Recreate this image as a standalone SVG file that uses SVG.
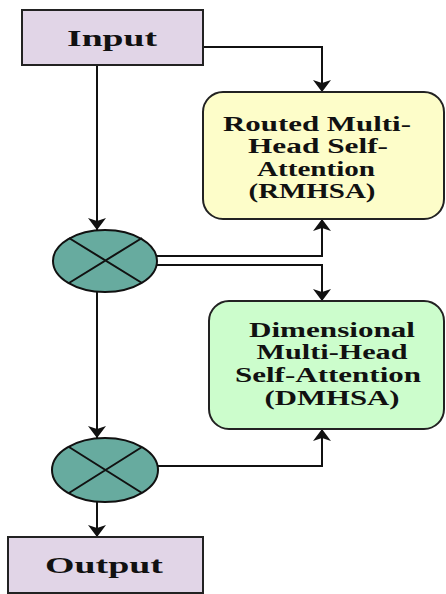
<svg xmlns="http://www.w3.org/2000/svg" width="446" height="594" viewBox="0 0 446 594">
  <defs>
    <marker id="arrow" markerUnits="userSpaceOnUse" markerWidth="20" markerHeight="20" viewBox="0 0 20 20" refX="12" refY="10" orient="auto">
      <path d="M0,1 L12,10 L0,19 L3,10 Z" fill="#111"/>
    </marker>
    <style>
      .box { stroke: #222; stroke-width: 2; }
      .io { fill: #e1d5e7; }
      .rm { fill: #fdfdc9; }
      .dm { fill: #ccfdcc; }
      .mul { fill: #67ab9f; stroke: #111; stroke-width: 2; }
      .cross { stroke: #111; stroke-width: 2; }
      .lbl { font-family: "Liberation Serif", "Times New Roman", serif; font-weight: bold; fill: #111; text-anchor: middle; }
      .big { font-size: 24px; }
      .mid { font-size: 20px; }
      .conn { fill: none; stroke: #111; stroke-width: 2; }
    </style>
  </defs>

  <!-- connectors -->
  <g id="connectors">
    <path class="conn" d="M203,47 H322 V92" marker-end="url(#arrow)"/>
    <path class="conn" d="M97,65 V230" marker-end="url(#arrow)"/>
    <path class="conn" d="M156,256 H322 V219" marker-end="url(#arrow)"/>
    <path class="conn" d="M156,265 H322 V301" marker-end="url(#arrow)"/>
    <path class="conn" d="M97,292 V438" marker-end="url(#arrow)"/>
    <path class="conn" d="M157,466 H322 V429" marker-end="url(#arrow)"/>
    <path class="conn" d="M97,502 V537" marker-end="url(#arrow)"/>
  </g>

  <!-- input -->
  <g id="input">
    <rect class="box io" x="22" y="10" width="181" height="55"/>
    <text class="lbl big" x="112" y="46" textLength="90" lengthAdjust="spacingAndGlyphs">Input</text>
  </g>

  <!-- routed multi-head self-attention -->
  <g id="rmhsa">
    <rect class="box rm" x="203" y="92" width="241" height="127" rx="20" ry="20"/>
    <text class="lbl mid" x="317" y="131" textLength="188" lengthAdjust="spacingAndGlyphs">Routed Multi-</text>
    <text class="lbl mid" x="318" y="153" textLength="140" lengthAdjust="spacingAndGlyphs">Head Self-</text>
    <text class="lbl mid" x="316" y="176" textLength="118" lengthAdjust="spacingAndGlyphs">Attention</text>
    <text class="lbl mid" x="312" y="198" textLength="127" lengthAdjust="spacingAndGlyphs">(RMHSA)</text>
  </g>

  <!-- first multiplication -->
  <g id="mul1">
    <ellipse class="mul" cx="105" cy="261" rx="52" ry="31"/>
    <path class="cross" d="M69,238 L142,283 M69,283 L142,238"/>
  </g>

  <!-- dimensional multi-head self-attention -->
  <g id="dmhsa">
    <rect class="box dm" x="209" y="301" width="235" height="128" rx="20" ry="20"/>
    <text class="lbl mid" x="332" y="337" textLength="166" lengthAdjust="spacingAndGlyphs">Dimensional</text>
    <text class="lbl mid" x="332" y="359" textLength="151" lengthAdjust="spacingAndGlyphs">Multi-Head</text>
    <text class="lbl mid" x="328" y="382" textLength="186" lengthAdjust="spacingAndGlyphs">Self-Attention</text>
    <text class="lbl mid" x="332" y="405" textLength="135" lengthAdjust="spacingAndGlyphs">(DMHSA)</text>
  </g>

  <!-- second multiplication -->
  <g id="mul2">
    <ellipse class="mul" cx="105" cy="470" rx="53" ry="32"/>
    <path class="cross" d="M69,447 L142,493 M69,493 L142,447"/>
  </g>

  <!-- output -->
  <g id="output">
    <rect class="box io" x="8" y="537" width="195" height="56"/>
    <text class="lbl big" x="104" y="573" textLength="118" lengthAdjust="spacingAndGlyphs">Output</text>
  </g>
</svg>
